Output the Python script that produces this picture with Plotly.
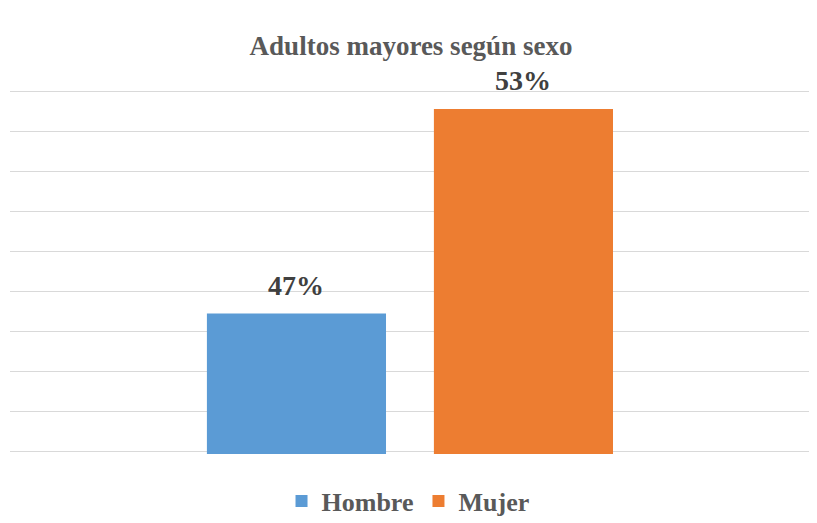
import plotly.graph_objects as go

series_names = ["Hombre", "Mujer"]
series_values = [47.45, 52.55]
series_labels = ["47%", "53%"]
series_colors = ["#5B9BD5", "#ED7D31"]

FONT = "Liberation Serif"
W, H = 809, 515  # page body adds an 8px offset inside the 817x523 window

fig = go.Figure()
for name, val, col in zip(series_names, series_values, series_colors):
    fig.add_trace(go.Bar(
        name=f"<b>{name}</b>", x=[name], y=[val],
        marker=dict(color=col, line=dict(width=0)),
        hoverinfo="skip",
    ))
for name, val, lab in zip(series_names, series_values, series_labels):
    fig.add_annotation(x=name, y=val, xref="x", yref="y", text=f"<b>{lab}</b>",
                       showarrow=False, yanchor="bottom", yshift=11,
                       font=dict(family=FONT, size=28, color="#404040"))

fig.update_layout(
    width=W, height=H,
    margin=dict(l=2, r=8, t=81, b=69, autoexpand=False),
    paper_bgcolor="white", plot_bgcolor="white",
    barmode="overlay", bargap=0.211,
    title=dict(text="<b>Adultos mayores según sexo</b>", x=(2 + 401) / W, xanchor="center",
               y=1 - 38 / H, yanchor="middle", yref="container",
               font=dict(family=FONT, size=27, color="#595959")),
    xaxis=dict(type="category", range=[-1.262, 2.258], showticklabels=False,
               showgrid=False, zeroline=False, showline=False),
    yaxis=dict(range=[43.95, 53.05], dtick=1, tick0=44, showticklabels=False,
               showgrid=True, gridcolor="#D9D9D9", gridwidth=1, zeroline=False,
               showline=False),
    legend=dict(orientation="h", x=(2 + 401) / W, xanchor="center", y=22 / H,
                yanchor="middle", yref="container",
                font=dict(family=FONT, size=26, color="#595959"),
                traceorder="normal"),
    showlegend=True,
)

fig.write_html("out.html")
